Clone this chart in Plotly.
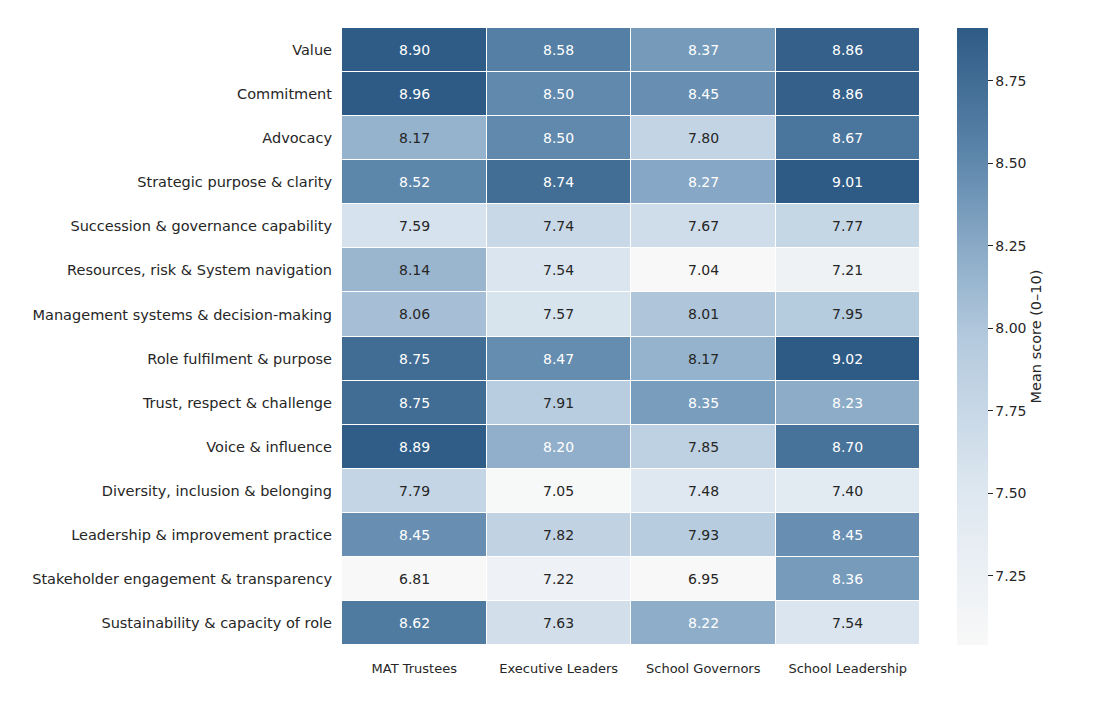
import plotly.graph_objects as go

groups = ["MAT Trustees", "Executive Leaders", "School Governors", "School Leadership"]
themes = [
    "Value",
    "Commitment",
    "Advocacy",
    "Strategic purpose & clarity",
    "Succession & governance capability",
    "Resources, risk & System navigation",
    "Management systems & decision-making",
    "Role fulfilment & purpose",
    "Trust, respect & challenge",
    "Voice & influence",
    "Diversity, inclusion & belonging",
    "Leadership & improvement practice",
    "Stakeholder engagement & transparency",
    "Sustainability & capacity of role",
]
mat_trustees = [8.90, 8.96, 8.17, 8.52, 7.59, 8.14, 8.06, 8.75, 8.75, 8.89, 7.79, 8.45, 6.81, 8.62]
executive_leaders = [8.58, 8.50, 8.50, 8.74, 7.74, 7.54, 7.57, 8.47, 7.91, 8.20, 7.05, 7.82, 7.22, 7.63]
school_governors = [8.37, 8.45, 7.80, 8.27, 7.67, 7.04, 8.01, 8.17, 8.35, 7.85, 7.48, 7.93, 6.95, 8.22]
school_leadership = [8.86, 8.86, 8.67, 9.01, 7.77, 7.21, 7.95, 9.02, 8.23, 8.70, 7.40, 8.45, 8.36, 7.54]

zmin, zmax = 7.04, 8.91
colorbar_ticks = [7.25, 7.50, 7.75, 8.00, 8.25, 8.50, 8.75]

series = [mat_trustees, executive_leaders, school_governors, school_leadership]
z = [[series[j][i] for j in range(len(groups))] for i in range(len(themes))]

colorscale = [
    [0.0, "#f8f8f8"],
    [0.25, "#dde7f0"],
    [0.5, "#b3c9dd"],
    [0.65, "#88a9c6"],
    [0.8, "#5a84a9"],
    [0.9, "#446f97"],
    [1.0, "#2e5b85"],
]

fig = go.Figure(go.Heatmap(
    z=z, x=groups, y=themes,
    zmin=zmin, zmax=zmax,
    colorscale=colorscale,
    xgap=1, ygap=1,
    hoverongaps=False,
    colorbar=dict(
        x=1.064, xanchor="left", xpad=0, y=0.5, yanchor="middle",
        len=1.0, lenmode="fraction", thickness=31, ypad=0,
        outlinewidth=0,
        tickvals=colorbar_ticks,
        ticktext=[f"{t:.2f}" for t in colorbar_ticks],
        ticks="outside", ticklen=5, tickcolor="#262626",
        tickfont=dict(family="DejaVu Sans", size=14, color="#262626"),
        title=dict(text="Mean score (0–10)", side="right",
                   font=dict(family="DejaVu Sans", size=14.5, color="#262626")),
    ),
))

annotations = []
for i, t in enumerate(themes):
    for j, g in enumerate(groups):
        v = z[i][j]
        annotations.append(dict(
            x=g, y=t, text=f"{v:.2f}", showarrow=False,
            font=dict(family="DejaVu Sans", size=14,
                      color="#ffffff" if v >= 8.2 else "#262626"),
        ))

fig.update_layout(
    width=1110, height=703,
    margin=dict(l=334, r=198, t=20, b=66),
    paper_bgcolor="white", plot_bgcolor="white",
    annotations=annotations,
    xaxis=dict(showgrid=False, zeroline=False, ticks="", ticklen=0,
               ticklabelstandoff=14,
               tickfont=dict(family="DejaVu Sans", size=13, color="#262626")),
    yaxis=dict(autorange="reversed", showgrid=False, zeroline=False, ticks="",
               ticklabelstandoff=9,
               tickfont=dict(family="DejaVu Sans", size=14.5, color="#262626")),
)

fig.write_html("out.html")
